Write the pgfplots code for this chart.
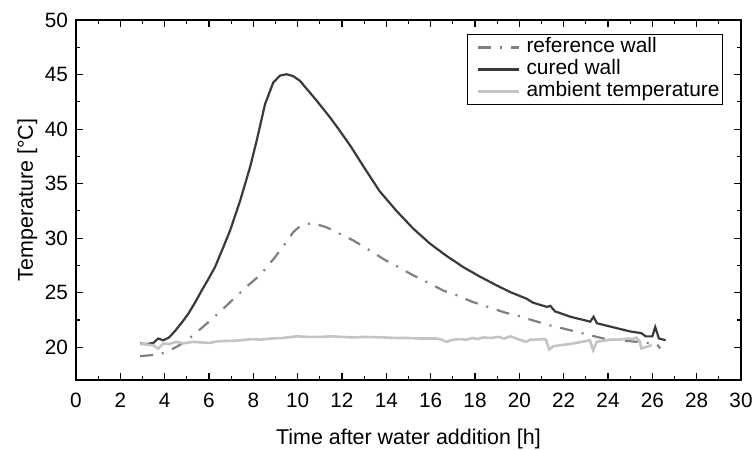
\documentclass[border=0pt]{standalone}
\usepackage{fontspec}
\setmainfont{Liberation Sans}
\usepackage{pgfplots}
\pgfplotsset{compat=1.18}
\definecolor{curedc}{HTML}{3A3A3A}
\definecolor{refc}{HTML}{808080}
\definecolor{ambc}{HTML}{C4C4C4}
\begin{document}
\begin{tikzpicture}
\useasboundingbox (0,0) rectangle (753bp,450bp);
\begin{axis}[
  at={(76bp,70bp)}, anchor=south west,
  scale only axis, width=665bp, height=360bp,
  xmin=0, xmax=30, ymin=17, ymax=50,
  xtick={0,2,...,30}, ytick={20,25,...,50},
  minor x tick num=1, minor y tick num=1,
  tick align=inside, major tick length=7bp, minor tick length=4bp,
  axis line style={line width=1.3bp},
  every tick/.style={black, line width=1.1bp},
  /pgf/number format/assume math mode=true,
  ticklabel style={font=\fontsize{20.8}{25}\selectfont},
  xticklabel style={anchor=base, inner sep=0pt, yshift=-27bp},
  yticklabel style={anchor=east, inner sep=0pt, xshift=-8bp},
  xlabel={Time after water addition [h]},
  ylabel={Temperature [°C]},
  xlabel style={at={(axis description cs:0.5,0)}, anchor=base, yshift=-64bp, font=\fontsize{21.5}{25}\selectfont},
  ylabel style={at={(axis description cs:0,0.5)}, anchor=base, yshift=43bp, font=\fontsize{21.5}{25}\selectfont},
  legend cell align=left,
  legend style={at={(0.973,0.961)}, anchor=north east, draw=black, line width=1bp,
    inner sep=2.5bp, row sep=1bp, font=\fontsize{21}{21}\selectfont,
    nodes={inner sep=0.5bp, text height=15bp, text depth=5bp}},
  legend image code/.code={\path[draw=none,fill=none] (0bp,0bp) -- (56bp,0bp); \draw[#1] (7.5bp,0bp) -- (48.5bp,0bp);},
]
\addplot[refc, line width=2.2bp, dash pattern=on 13bp off 9bp on 2bp off 9bp] coordinates {
(2.89,19.18)(3.34,19.27)(3.79,19.36)(4.39,19.88)(4.92,20.49)(5.4,21.3)(5.9,22.17)(6.3,22.9)(6.8,23.84)(7.3,24.8)(7.85,25.83)(8.3,26.6)(8.98,28.26)(9.4,29.4)(9.8,30.55)(10.1,31.1)(10.55,31.35)(10.9,31.25)(11.3,31.0)(11.9,30.4)(12.5,29.8)(13.0,29.2)(13.94,28.0)(14.5,27.4)(15.21,26.6)(15.9,25.9)(16.57,25.2)(17.2,24.75)(17.9,24.15)(18.6,23.7)(19.27,23.23)(20.0,22.85)(20.6,22.47)(21.4,22.0)(22.3,21.56)(23.0,21.2)(23.8,20.8)(24.5,20.65)(25.3,20.5)(25.8,20.4)(26.2,20.3)(26.35,19.9)
};
\addlegendentry{reference wall}
\addplot[curedc, line width=2.2bp] coordinates {
(2.89,20.34)(3.2,20.3)(3.49,20.4)(3.71,20.8)(3.94,20.64)(4.2,20.9)(4.47,21.5)(4.75,22.2)(5.07,23.08)(5.37,24.1)(5.67,25.2)(5.97,26.25)(6.27,27.35)(6.65,29.2)(6.95,30.7)(7.4,33.4)(7.85,36.5)(8.15,38.94)(8.53,42.3)(8.9,44.27)(9.2,44.9)(9.5,45.03)(9.8,44.85)(10.1,44.43)(10.86,42.6)(11.46,41.07)(11.9,39.85)(12.4,38.4)(12.96,36.6)(13.7,34.3)(14.46,32.5)(15.2,30.9)(15.97,29.5)(16.7,28.4)(17.47,27.35)(18.2,26.5)(18.98,25.67)(19.6,25.05)(20.33,24.45)(20.6,24.1)(21.0,23.85)(21.25,23.7)(21.4,23.8)(21.6,23.3)(22.3,22.8)(23.2,22.35)(23.35,22.8)(23.5,22.2)(24.1,21.9)(25.0,21.45)(25.5,21.3)(25.7,21.0)(26.0,21.0)(26.13,21.85)(26.3,20.8)(26.6,20.65)
};
\addlegendentry{cured wall}
\addplot[ambc, line width=2.6bp] coordinates {
(2.9,20.3)(3.2,20.25)(3.49,20.18)(3.71,19.88)(3.94,20.34)(4.2,20.3)(4.54,20.5)(4.8,20.35)(5.29,20.5)(5.6,20.45)(6.04,20.4)(6.4,20.55)(6.8,20.58)(7.2,20.6)(7.7,20.7)(8.0,20.75)(8.3,20.7)(8.8,20.8)(9.3,20.85)(9.95,21.0)(10.5,20.95)(11,20.95)(11.5,21.0)(12,20.95)(12.5,20.9)(13,20.95)(13.85,20.9)(14.5,20.85)(15,20.85)(15.6,20.8)(16.27,20.8)(16.5,20.7)(16.72,20.48)(16.9,20.65)(17.3,20.75)(17.6,20.7)(17.9,20.85)(18.1,20.75)(18.37,20.9)(18.7,20.85)(19.1,20.95)(19.3,20.8)(19.6,21.0)(20.0,20.7)(20.3,20.5)(20.5,20.7)(20.78,20.7)(21.0,20.75)(21.2,20.7)(21.35,19.8)(21.53,20.1)(21.9,20.2)(22.28,20.3)(22.7,20.45)(23.18,20.64)(23.33,19.73)(23.49,20.5)(23.8,20.6)(24.1,20.7)(24.5,20.7)(24.84,20.8)(25.1,20.75)(25.29,20.89)(25.44,20.5)(25.5,19.9)(25.74,20.03)(25.97,20.2)
};
\addlegendentry{ambient temperature}
\end{axis}
\end{tikzpicture}
\end{document}
